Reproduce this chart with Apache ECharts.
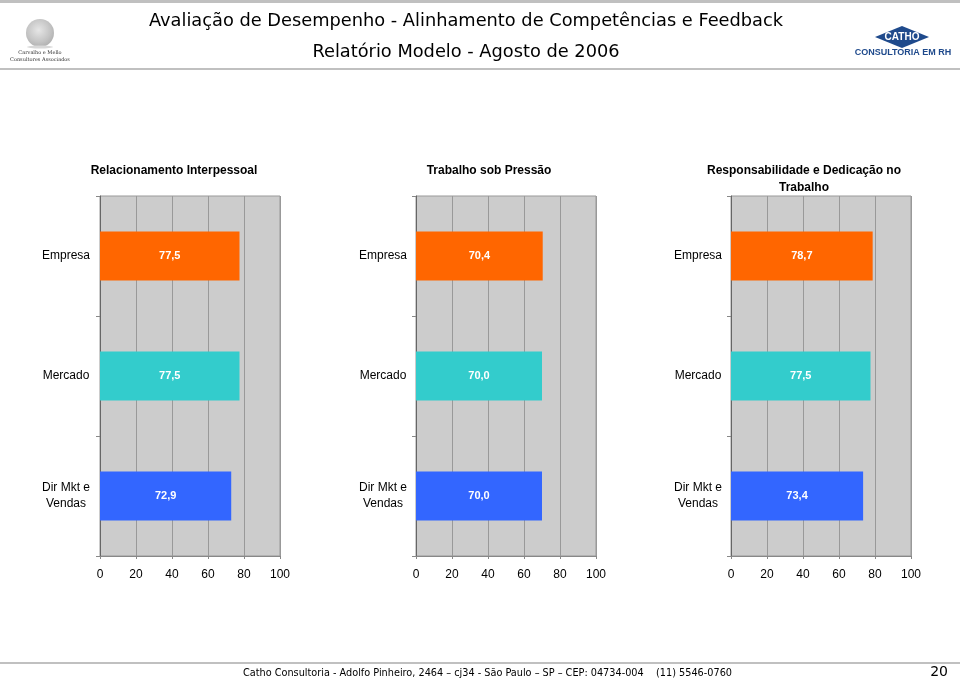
<!DOCTYPE html>
<html>
<head>
<meta charset="utf-8">
<script src="https://cdn.jsdelivr.net/npm/echarts@6/dist/echarts.min.js"></script>
<style>
html,body{margin:0;padding:0;background:#fff;}
#chart{width:960px;height:681px;}
</style>
</head>
<body>
<div id="chart"></div>
<script>
// ---- data ----
var categories = ['Empresa', 'Mercado', 'Dir Mkt e\nVendas'];
var panelTitles = ['Relacionamento Interpessoal', 'Trabalho sob Pressão', 'Responsabilidade e Dedicação no\nTrabalho'];
var relacionamento = [77.5, 77.5, 72.9];
var trabalhoPressao = [70.4, 70.0, 70.0];
var responsabilidade = [78.7, 77.5, 73.4];
var xTicks = [0, 20, 40, 60, 80, 100];
var headerTitle = 'Avaliação de Desempenho - Alinhamento de Competências e Feedback';
var headerSub = 'Relatório Modelo - Agosto de 2006';
var footerText = 'Catho Consultoria - Adolfo Pinheiro, 2464 – cj34 - São Paulo – SP – CEP: 04734-004    (11) 5546-0760';
var pageNum = '20';

// ---- layout / style ----
var panelData = [relacionamento, trabalhoPressao, responsabilidade];
var barColors = ['#ff6600', '#33cccc', '#3366ff'];
var gridLefts = [100, 416, 731];
var gridW = 180, gridTop = 196, gridH = 360;
var titleX = [169, 484, 799];
var labelMargins = [34, 33, 33];
var FONT = '"Liberation Sans", Arial, sans-serif';

var chart = echarts.init(document.getElementById('chart'), null, {renderer: 'canvas'});

var grids = [], xAxes = [], yAxes = [], series = [], titles = [];
panelData.forEach(function (vals, i) {
  grids.push({
    left: gridLefts[i], top: gridTop, width: gridW, height: gridH,
    show: true, backgroundColor: '#cccccc', borderColor: '#999999', borderWidth: 1
  });
  xAxes.push({
    type: 'value', gridIndex: i, min: xTicks[0], max: xTicks[xTicks.length - 1],
    interval: xTicks[1] - xTicks[0],
    axisLine: {show: true, lineStyle: {color: '#888888', width: 1}},
    axisTick: {show: true, length: 3, lineStyle: {color: '#888888'}},
    axisLabel: {color: '#000', fontSize: 12, fontFamily: FONT, margin: 13},
    splitLine: {show: true, lineStyle: {color: '#999999', width: 1}}
  });
  yAxes.push({
    type: 'category', gridIndex: i, data: categories, inverse: true,
    axisLine: {show: true, lineStyle: {color: '#666666', width: 1}},
    axisTick: {show: true, length: 4, lineStyle: {color: '#888888'}},
    axisLabel: {color: '#000', fontSize: 12, fontFamily: FONT, margin: labelMargins[i], align: 'center', lineHeight: 16}
  });
  series.push({
    type: 'bar', xAxisIndex: i, yAxisIndex: i, barWidth: 49,
    data: vals.map(function (v, k) {
      return {value: v, itemStyle: {color: barColors[k]}};
    }),
    label: {
      show: true, position: 'inside', color: '#fff', fontWeight: 'bold', fontSize: 11, fontFamily: FONT,
      formatter: function (p) { return p.value.toFixed(1).replace('.', ','); }
    },
    silent: true, animation: false
  });
  titles.push({
    text: panelTitles[i], left: titleX[i], top: 157, textAlign: 'center',
    textStyle: {fontSize: 12, fontWeight: 'bold', fontFamily: FONT, color: '#000', lineHeight: 17}
  });
});

var graphics = [
  // header lines
  {type: 'rect', shape: {x: 0, y: 0, width: 960, height: 3}, style: {fill: '#c0c0c0'}},
  {type: 'rect', shape: {x: 0, y: 68, width: 960, height: 2}, style: {fill: '#c0c0c0'}},
  // header texts
  {type: 'text', x: 466, y: 21, style: {text: headerTitle, font: '17.8px "DejaVu Sans", Verdana, sans-serif', fill: '#000', textAlign: 'center', textVerticalAlign: 'middle'}},
  {type: 'text', x: 466, y: 52, style: {text: headerSub, font: '17.8px "DejaVu Sans", Verdana, sans-serif', fill: '#000', textAlign: 'center', textVerticalAlign: 'middle'}},
  // left logo
  {type: 'circle', shape: {cx: 40, cy: 33, r: 14}, style: {fill: new echarts.graphic.RadialGradient(0.45, 0.4, 0.7, [{offset: 0, color: '#e6e6e6'}, {offset: 0.6, color: '#c4c4c4'}, {offset: 1, color: '#a8a8a8'}])}},
  {type: 'ellipse', shape: {cx: 40, cy: 47, rx: 13, ry: 1.5}, style: {fill: '#d8d8d8'}},
  {type: 'text', x: 40, y: 53, style: {text: 'Carvalho e Mello', font: '5px "DejaVu Serif", serif', fill: '#333', textAlign: 'center', textVerticalAlign: 'middle'}},
  {type: 'text', x: 40, y: 60, style: {text: 'Consultores Associados', font: '5px "DejaVu Serif", serif', fill: '#333', textAlign: 'center', textVerticalAlign: 'middle'}},
  // right logo
  {type: 'polygon', shape: {points: [[875, 37], [902, 26], [929, 37], [902, 48]]}, style: {fill: '#1f4a8c'}},
  {type: 'text', x: 902, y: 37, style: {text: 'CATHO', font: 'bold 10px "Liberation Sans", Arial, sans-serif', fill: '#fff', textAlign: 'center', textVerticalAlign: 'middle'}},
  {type: 'text', x: 903, y: 53, style: {text: 'CONSULTORIA EM RH', font: 'bold 9px "Liberation Sans", Arial, sans-serif', fill: '#1f4a8c', textAlign: 'center', textVerticalAlign: 'middle'}},
  // footer
  {type: 'rect', shape: {x: 0, y: 662, width: 960, height: 2}, style: {fill: '#c0c0c0'}},
  {type: 'text', x: 243, y: 673, style: {text: footerText, font: '10.8px "DejaVu Sans Condensed", "DejaVu Sans", sans-serif', fill: '#000', textAlign: 'left', textVerticalAlign: 'middle'}},
  {type: 'text', x: 948, y: 672, style: {text: pageNum, font: '14px "DejaVu Sans", sans-serif', fill: '#000', textAlign: 'right', textVerticalAlign: 'middle'}}
];

chart.setOption({
  animation: false,
  backgroundColor: '#ffffff',
  title: titles,
  grid: grids,
  xAxis: xAxes,
  yAxis: yAxes,
  series: series,
  graphic: graphics
});
</script>
</body>
</html>
